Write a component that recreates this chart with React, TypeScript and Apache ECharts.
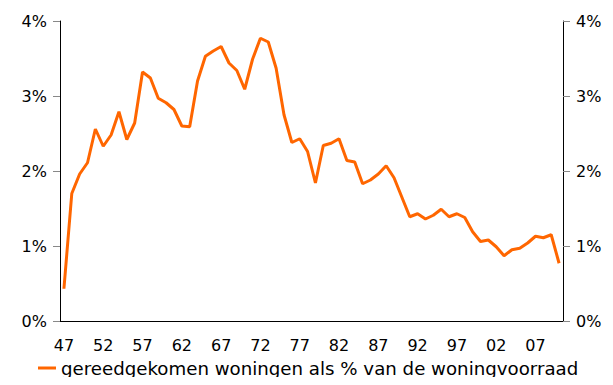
import React, { useEffect, useRef } from "react";
import * as echarts from "echarts";

// Completed dwellings as a percentage of the housing stock, 1947–2010
const years: number[] = [];
for (let y = 1947; y <= 2010; y++) years.push(y);

const completedPct: number[] = [
  0.43, 1.70, 1.96, 2.11, 2.56, 2.33, 2.48, 2.79, 2.42, 2.64,
  3.32, 3.24, 2.97, 2.91, 2.82, 2.60, 2.59, 3.20, 3.53, 3.60,
  3.66, 3.44, 3.34, 3.09, 3.49, 3.77, 3.72, 3.37, 2.75, 2.38,
  2.43, 2.26, 1.84, 2.34, 2.37, 2.43, 2.14, 2.12, 1.83, 1.88,
  1.96, 2.07, 1.91, 1.65, 1.39, 1.43, 1.36, 1.41, 1.49, 1.39,
  1.43, 1.38, 1.19, 1.06, 1.08, 0.99, 0.87, 0.95, 0.97, 1.04,
  1.13, 1.11, 1.15, 0.77,
];

const seriesName = "gereedgekomen woningen als % van de woningvoorraad";
const FONT = "DejaVu Sans, Verdana, sans-serif";
const ORANGE = "#FF6600";

export default function App() {
  const ref = useRef<HTMLDivElement>(null);

  useEffect(() => {
    if (!ref.current) return;
    const chart = echarts.init(ref.current, null, { renderer: "svg" });

    const yAxisBase = {
      type: "value" as const,
      min: 0,
      max: 4,
      interval: 1,
      splitLine: { show: false },
      axisLine: { show: true, lineStyle: { color: "#000", width: 1 } },
      axisTick: { show: true, length: 7, lineStyle: { color: "#888" } },
      axisLabel: {
        formatter: "{value}%",
        fontSize: 16,
        fontFamily: FONT,
        color: "#000",
        margin: 13,
      },
    };

    chart.setOption({
      animation: false,
      textStyle: { fontFamily: FONT },
      grid: { left: 60, right: 50, top: 21, bottom: 64, containLabel: false },
      legend: {
        data: [seriesName],
        top: 359,
        left: 38,
        padding: 0,
        icon: "rect",
        itemWidth: 18,
        itemHeight: 3,
        textStyle: {
          fontSize: 18.2,
          lineHeight: 18,
          fontFamily: FONT,
          color: "#000",
        },
      },
      xAxis: {
        type: "category",
        data: years,
        boundaryGap: true,
        axisLine: { lineStyle: { color: "#000", width: 1 } },
        axisTick: {
          interval: 4,
          length: 6,
          alignWithLabel: false,
          lineStyle: { color: "#888" },
        },
        axisLabel: {
          interval: 4,
          formatter: (v: string) => String(v).slice(2),
          fontSize: 16,
          fontFamily: FONT,
          color: "#000",
          margin: 16,
        },
      },
      yAxis: [
        { ...yAxisBase, position: "left" },
        { ...yAxisBase, position: "right" },
      ],
      series: [
        {
          name: seriesName,
          type: "line",
          data: completedPct,
          yAxisIndex: 0,
          showSymbol: false,
          symbol: "none",
          lineStyle: { color: ORANGE, width: 3 },
          itemStyle: { color: ORANGE },
        },
      ],
    });

    return () => chart.dispose();
  }, []);

  return <div ref={ref} style={{ width: 613, height: 385, margin: -8 }} />;
}
